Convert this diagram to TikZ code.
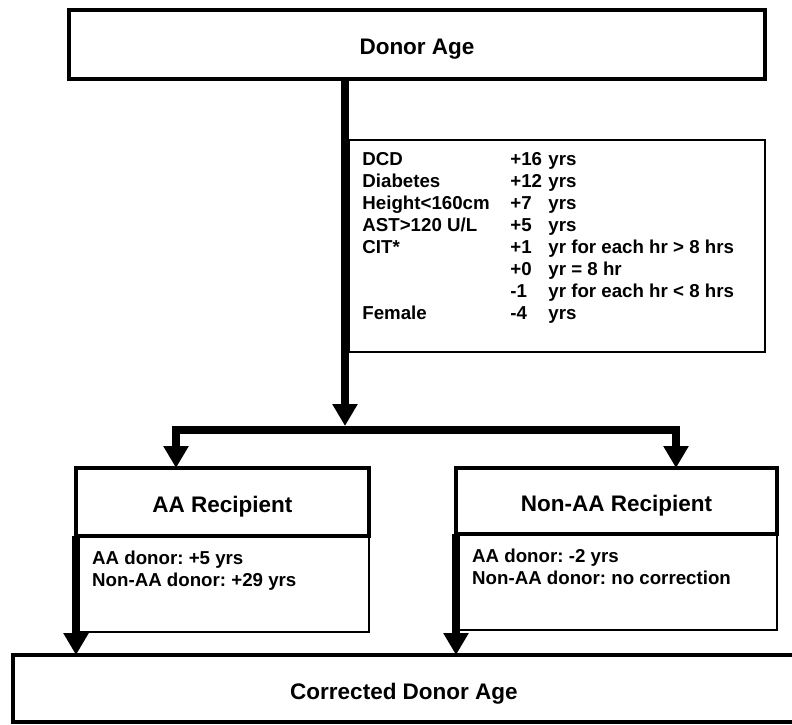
\documentclass[tikz,border=0pt]{standalone}
\usepackage{fontspec}
\setmainfont{Liberation Sans}
\frenchspacing
\usepackage{tikz}
\usetikzlibrary{arrows.meta}
\usetikzlibrary{calc}
\usetikzlibrary{positioning,matrix}
\tikzset{
    head box/.style={
        draw,
        line width=4pt,
        outer sep=0pt,
        align=center,
        font=\bfseries\fontsize{22.5}{26}\selectfont,
        text height=21pt,
        text depth=0pt
    },
    note box/.style={
        draw,
        line width=1.2pt,
        outer sep=0pt
    },
    note text/.style={
        align=left,
        inner sep=0pt,
        font=\bfseries\fontsize{18.7}{22}\selectfont
    },
    factor nodes/.style={
        anchor=base west,
        inner sep=0pt,
        text height=14pt,
        text depth=4pt,
        font=\bfseries\fontsize{18.7}{22}\selectfont
    },
    factor table/.style={
        matrix of nodes,
        inner sep=0pt,
        row sep=3.9pt,
        column sep=6.3pt,
        nodes={
            factor nodes
          }
     },
    flow/.style={
        line width=8pt,
        -{Triangle[width=24pt,length=22pt]}
    }
}
\begin{document}
\begin{tikzpicture}[x=1pt,y=-1pt]
            \useasboundingbox (0,0) rectangle (792,725);
            \node[head box, minimum width=696pt, minimum height=69pt] (donor) at (417,44.5) {Donor Age};
            \node[note box, minimum width=416pt, minimum height=212pt] (factors) at (557,246) {};
            \matrix[factor table, below right=11.7pt and 13pt of factors.north west] (F)
            {
              DCD &[14.4pt] +16 & yrs \\
              Diabetes & +12 & yrs \\
              Height<160cm & +7 & yrs \\
              AST>120 U/L & +5 & yrs \\
              CIT* & +1 & yr for each hr > 8 hrs \\
               & +0 & yr = 8 hr \\
               & -1 & yr for each hr < 8 hrs \\
              Female & -4 & yrs \\
            };
            \node[head box, minimum width=293pt, minimum height=68pt] (aa) at (222.5,502) {AA Recipient};
            \node[note box, minimum width=293pt, minimum height=96pt] (aadet) at (222.5,584) {};
            \node[note text, below right=14.3pt and 16pt of aadet.north west] (aatxt) {AA donor: +5 yrs\\Non-AA donor: +29 yrs};
            \node[head box, minimum width=321pt, minimum height=66pt] (nonaa) at (616.5,501) {Non-AA Recipient};
            \node[note box, minimum width=321pt, minimum height=96pt] (nonaadet) at (616.5,582) {};
            \node[note text, below right=14.3pt and 16pt of nonaadet.north west] (nonaatxt) {AA donor: -2 yrs\\Non-AA donor: no correction};
            \node[head box, minimum width=782pt, minimum height=67pt] (corr) at (404,688.5) {Corrected Donor Age};
            \coordinate (split) at (345,430);
            \coordinate (lbr) at (176,430);
            \coordinate (rbr) at (676,430);
            \draw[flow, shorten >=4pt] (donor.south -| split) -- (split);
            \foreach \b/\t in {lbr/aa,rbr/nonaa}
              \draw[flow] (split) -| (\b |- \t.north);
            \foreach \t in {aadet,nonaadet}
              \draw[flow] (\t.north west) -- (\t.north west |- corr.north);
          \end{tikzpicture}
\end{document}
